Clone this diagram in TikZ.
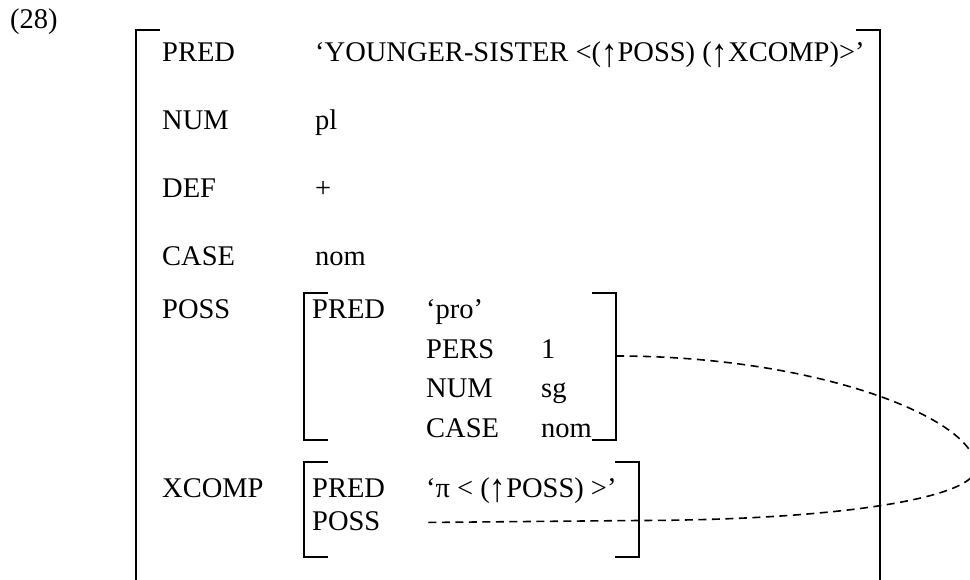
\documentclass[tikz,border=0pt]{standalone}
\usepackage{fontspec}
\setmainfont{Liberation Serif}
\newcommand\uparr{\raisebox{-0.16em}{\scalebox{1.15}[1.4]{↑}}}
\begin{document}
\begin{tikzpicture}[x=1pt,y=-1pt,
  lab/.style={anchor=base west,inner sep=0pt,font=\fontsize{28.5}{33}\selectfont},
  brk/.style={line width=2pt},
  link/.style={line width=1.6pt,dash pattern=on 8pt off 5.5pt}]
\useasboundingbox (0,0) rectangle (970,580);
\clip (0,0) rectangle (970,580);
% example number
\node[lab] (num) at (10,28.5) {(28)};
% outer brackets
\draw[brk] (160,30) -- (136,30) -- (136,590);
\draw[brk] (856,30) -- (880,30) -- (880,590);
% main attributes
\node[lab] (pred) at (162,61.5) {PRED};
\node[lab] (predv) at (315,61.5) {‘YOUNGER-SISTER <(\uparr POSS) (\uparr XCOMP)>’};
\node[lab] (numa) at (162,130) {NUM};
\node[lab] (numv) at (315,130) {pl};
\node[lab] (def) at (162,198) {DEF};
\node[lab] (defv) at (315,198) {+};
\node[lab] (case) at (162,265.5) {CASE};
\node[lab] (casev) at (315,265.5) {nom};
\node[lab] (poss) at (162,318.5) {POSS};
\node[lab] (xcomp) at (162,497) {XCOMP};
% POSS f-structure
\draw[brk] (328,293) -- (304,293) -- (304,440) -- (328,440);
\draw[brk] (592,293) -- (616,293) -- (616,440) -- (592,440);
\node[lab] (ppred) at (312,318.5) {PRED};
\node[lab] (ppredv) at (426,318.5) {‘pro’};
\node[lab] (ppers) at (426,358) {PERS};
\node[lab] (ppersv) at (541,358) {1};
\node[lab] (pnum) at (426,397.5) {NUM};
\node[lab] (pnumv) at (541,397.5) {sg};
\node[lab] (pcase) at (426,437) {CASE};
\node[lab] (pcasev) at (541,437) {nom};
% XCOMP f-structure
\draw[brk] (328,462) -- (304,462) -- (304,557) -- (328,557);
\draw[brk] (615,462) -- (639,462) -- (639,557) -- (615,557);
\node[lab] (xpred) at (312,497) {PRED};
\node[lab] (xpredv) at (426,497) {‘π < (\uparr POSS) >’};
\node[lab] (xposs) at (312,530) {POSS};
% link
\coordinate (possR) at (616,356);
\coordinate (xpossv) at (423,522.5);
\draw[link] (possR) .. controls (816,356) and (976,418) .. (976,468)
  .. controls (976,498) and (839,520) .. (639,520.5) -- (xpossv);
\end{tikzpicture}
\end{document}
